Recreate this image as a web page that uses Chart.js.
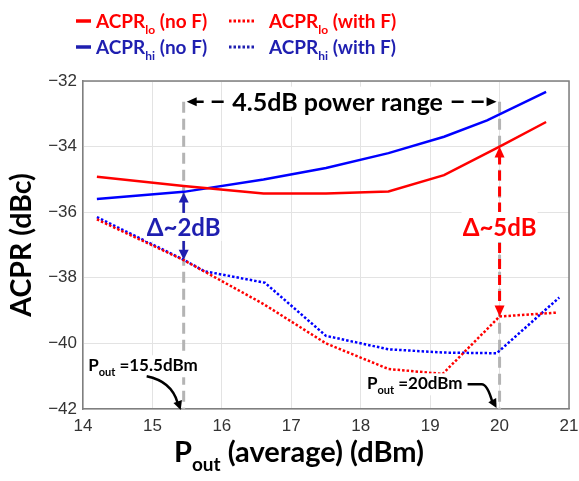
<!DOCTYPE html>
<html><head><meta charset="utf-8">
<script src="https://cdn.jsdelivr.net/npm/chart.js@4/dist/chart.umd.min.js"></script>
<style>html,body{margin:0;padding:0;background:#fff}#wrap{width:579px;height:481px}</style>
</head><body><div id="wrap"><canvas id="c" width="579" height="481"></canvas></div>
<script>
// ---- data ----
const xTicks = [14, 15, 16, 17, 18, 19, 20, 21];
const yTicks = [-42, -40, -38, -36, -34, -32];

const loNoF_x = [14.2, 15.45, 16.6, 17.5, 18.4, 19.2, 20.0, 20.67];
const loNoF_y = [-34.92, -35.2, -35.43, -35.43, -35.37, -34.87, -34.0, -33.25];

const hiNoF_x = [14.2, 15.45, 16.6, 17.5, 18.4, 19.2, 19.82, 20.67];
const hiNoF_y = [-35.6, -35.38, -35.0, -34.65, -34.2, -33.7, -33.2, -32.33];

const loF_x = [14.2, 15.45, 16.6, 17.5, 18.4, 19.18, 20.0, 20.83];
const loF_y = [-36.22, -37.46, -38.8, -40.0, -40.78, -40.93, -39.18, -39.06];

const hiF_x = [14.2, 15.45, 15.75, 16.62, 17.5, 18.4, 19.2, 19.96, 20.86];
const hiF_y = [-36.15, -37.45, -37.8, -38.15, -39.77, -40.18, -40.28, -40.3, -38.6];

const markerX = [15.45, 20.0];
const rangeY = -32.63;

const RED = '#ff0000', BLUE = '#0000ff', DBLUE = '#1f1fb0';
const F = 'Lato, "Open Sans", sans-serif';

function pts(xs, ys) { return xs.map((x, i) => ({ x: x, y: ys[i] })); }

function measure(ctx, parts, size) {
  const main = `bold ${size}px ${F}`, sub = `bold ${Math.round(size * 0.64)}px ${F}`;
  let w = 0;
  for (const p of parts) { ctx.font = p[1] ? sub : main; w += ctx.measureText(p[0]).width; }
  return w;
}
function rich(ctx, parts, x, y, size, color, align) {
  const main = `bold ${size}px ${F}`, sub = `bold ${Math.round(size * 0.64)}px ${F}`;
  const w = measure(ctx, parts, size);
  let sx = align === 'center' ? x - w / 2 : align === 'right' ? x - w : x;
  ctx.textAlign = 'left'; ctx.textBaseline = 'alphabetic'; ctx.fillStyle = color;
  for (const p of parts) {
    ctx.font = p[1] ? sub : main;
    ctx.fillText(p[0], sx, y + (p[1] ? size * 0.3 : 0));
    sx += ctx.measureText(p[0]).width;
  }
  return w;
}
function head(ctx, tx, ty, dx, dy, len, hw, color) {
  const n = Math.hypot(dx, dy); dx /= n; dy /= n;
  ctx.save(); ctx.fillStyle = color; ctx.setLineDash([]);
  ctx.beginPath();
  ctx.moveTo(tx, ty);
  ctx.lineTo(tx - dx * len - dy * hw, ty - dy * len + dx * hw);
  ctx.lineTo(tx - dx * len + dy * hw, ty - dy * len - dx * hw);
  ctx.closePath(); ctx.fill(); ctx.restore();
}
function seg(ctx, x1, y1, x2, y2, color, w, dash) {
  ctx.save(); ctx.strokeStyle = color; ctx.lineWidth = w; ctx.setLineDash(dash || []);
  ctx.beginPath(); ctx.moveTo(x1, y1); ctx.lineTo(x2, y2); ctx.stroke(); ctx.restore();
}
function box(ctx, cx, cy, w, h) { ctx.fillStyle = '#fff'; ctx.fillRect(cx - w / 2, cy - h / 2, w, h); }

const annot = {
  id: 'annot',
  beforeDatasetsDraw(chart) {
    const { ctx, scales: { x, y } } = chart;
    for (const mx of markerX) {
      seg(ctx, x.getPixelForValue(mx), y.getPixelForValue(rangeY), x.getPixelForValue(mx), y.getPixelForValue(-42), '#b4b4b4', 3, [11, 6]);
    }
  },
  afterDatasetsDraw(chart) {
    const { ctx, scales: { x, y } } = chart;
    const x1 = x.getPixelForValue(markerX[0]), x2 = x.getPixelForValue(markerX[1]);
    const yr = y.getPixelForValue(rangeY);
    // top range arrow
    seg(ctx, x1 + 8, yr, x2 - 8, yr, '#000', 2.5, [12, 8]);
    head(ctx, x1 + 3, yr, -1, 0, 10, 4.5, '#000');
    head(ctx, x2 - 3, yr, 1, 0, 10, 4.5, '#000');
    const mid = (x1 + x2) / 2 - 4;
    const tw = measure(ctx, [['4.5dB power range', false]], 25);
    box(ctx, mid, yr, tw + 8, 30);
    rich(ctx, [['4.5dB power range', false]], mid, yr + 9, 25, '#000', 'center');

    // delta 2dB (blue)
    const yd = y.getPixelForValue(-36.45);
    const yb1 = y.getPixelForValue(-35.4), yb2 = y.getPixelForValue(-37.45);
    seg(ctx, x1, yb1 + 6, x1, yd - 12, DBLUE, 2.5);
    head(ctx, x1, yb1, 0, -1, 10, 5, DBLUE);
    seg(ctx, x1, yd + 12, x1, yb2 - 6, DBLUE, 2.5);
    head(ctx, x1, yb2, 0, 1, 10, 5, DBLUE);
    box(ctx, x1, yd, 76, 28);
    rich(ctx, [['Δ~2dB', false]], x1, yd + 9, 24, DBLUE, 'center');

    // delta 5dB (red)
    const yr1 = y.getPixelForValue(-34.0), yr2 = y.getPixelForValue(-39.18);
    seg(ctx, x2, yr1 + 8, x2, yd - 14, RED, 3, [10, 6]);
    head(ctx, x2, yr1, 0, -1, 11, 5, RED);
    seg(ctx, x2, yd + 16, x2, yr2 - 8, RED, 3, [10, 6]);
    head(ctx, x2, yr2, 0, 1, 11, 5, RED);
    box(ctx, x2, yd, 76, 30);
    rich(ctx, [['Δ~5dB', false]], x2, yd + 9, 24, RED, 'center');

    // Pout labels
    const yb = y.getPixelForValue(-42);
    const p1 = [['P', false], ['out', true], [' =15.5dBm', false]];
    const yl1 = y.getPixelForValue(-40.85);
    const w1 = measure(ctx, p1, 17);
    box(ctx, x1 + 14 - w1 / 2, yl1 - 5, w1 + 4, 22);
    rich(ctx, p1, x1 + 14, yl1, 17, '#000', 'right');
    ctx.save(); ctx.strokeStyle = '#000'; ctx.lineWidth = 2.5;
    ctx.beginPath(); ctx.moveTo(x1 - 37, yl1 + 5); ctx.quadraticCurveTo(x1 - 12, yl1 + 10, x1 - 6, yb - 6); ctx.stroke(); ctx.restore();
    head(ctx, x1 - 3, yb + 1, 0.35, 1, 9, 4.5, '#000');

    const p2 = [['P', false], ['out', true], [' =20dBm', false]];
    const yl2 = y.getPixelForValue(-41.4);
    const w2 = measure(ctx, p2, 17);
    box(ctx, x2 - 37 - w2 / 2, yl2 - 5, w2 + 4, 22);
    rich(ctx, p2, x2 - 37, yl2, 17, '#000', 'right');
    ctx.save(); ctx.strokeStyle = '#000'; ctx.lineWidth = 2.5;
    ctx.beginPath(); ctx.moveTo(x2 - 32, yl2 - 5); ctx.lineTo(x2 - 18, yl2 - 5); ctx.quadraticCurveTo(x2 - 12, yl2 - 5, x2 - 7, yb - 6); ctx.stroke(); ctx.restore();
    head(ctx, x2 - 3, yb - 1, 0.55, 1, 9, 4.5, '#000');
  },
  afterDraw(chart) {
    const { ctx, chartArea: a } = chart;
    // legend
    seg(ctx, 76, 21, 91, 21, RED, 3.5);
    rich(ctx, [['ACPR', false], ['lo', true], [' (no F)', false]], 96, 28, 19, RED, 'left');
    seg(ctx, 229, 21, 254, 21, RED, 3, [2.5, 2]);
    rich(ctx, [['ACPR', false], ['lo', true], [' (with F)', false]], 269, 28, 19, RED, 'left');
    seg(ctx, 76, 47, 91, 47, DBLUE, 3.5);
    rich(ctx, [['ACPR', false], ['hi', true], [' (no F)', false]], 96, 54, 19, DBLUE, 'left');
    seg(ctx, 229, 47, 254, 47, DBLUE, 3, [2.5, 2]);
    rich(ctx, [['ACPR', false], ['hi', true], [' (with F)', false]], 269, 54, 19, DBLUE, 'left');
    // axis titles
    rich(ctx, [['P', false], ['out', true], [' (average) (dBm)', false]], (a.left + a.right) / 2 - 27, 462, 29, '#000', 'center');
    ctx.save(); ctx.translate(31, (a.top + a.bottom) / 2); ctx.rotate(-Math.PI / 2);
    rich(ctx, [['ACPR (dBc)', false]], 0, 0, 28.5, '#000', 'center');
    ctx.restore();
  }
};

new Chart(document.getElementById('c'), {
  type: 'line',
  data: {
    datasets: [
      { label: 'ACPRlo (no F)', data: pts(loNoF_x, loNoF_y), borderColor: RED, borderWidth: 2.5, pointRadius: 0, tension: 0 },
      { label: 'ACPRhi (no F)', data: pts(hiNoF_x, hiNoF_y), borderColor: BLUE, borderWidth: 2.5, pointRadius: 0, tension: 0 },
      { label: 'ACPRlo (with F)', data: pts(loF_x, loF_y), borderColor: RED, borderWidth: 2.5, borderDash: [2.5, 2], pointRadius: 0, tension: 0 },
      { label: 'ACPRhi (with F)', data: pts(hiF_x, hiF_y), borderColor: BLUE, borderWidth: 2.5, borderDash: [2.5, 2], pointRadius: 0, tension: 0 }
    ]
  },
  options: {
    responsive: false, animation: false, devicePixelRatio: 1,
    layout: { padding: { top: 81, right: 10, left: 0, bottom: 0 } },
    plugins: { legend: { display: false }, tooltip: { enabled: false } },
    scales: {
      x: {
        type: 'linear', min: 14, max: 21,
        afterBuildTicks: s => { s.ticks = xTicks.map(v => ({ value: v })); },
        afterFit: s => { s.height = 72; s.paddingLeft = 0; s.paddingRight = 0; },
        grid: { color: '#e3e3e3', drawTicks: false, lineWidth: 1 },
        border: { color: '#7f7f7f', width: 1.5 },
        ticks: { padding: 7, color: '#333', font: { family: '"Liberation Sans", sans-serif', size: 17 } }
      },
      y: {
        min: -42, max: -32,
        afterBuildTicks: s => { s.ticks = yTicks.map(v => ({ value: v })); },
        afterFit: s => { s.width = 83; s.paddingTop = 0; s.paddingBottom = 0; },
        grid: { color: '#e3e3e3', drawTicks: false, lineWidth: 1 },
        border: { color: '#7f7f7f', width: 1.5 },
        ticks: { padding: 6, color: '#333', font: { family: '"Liberation Sans", sans-serif', size: 17 },
          callback: v => (v < 0 ? '\u2212' : '') + Math.abs(v) }
      }
    }
  },
  plugins: [annot, {
    id: 'frame',
    afterDatasetsDraw(chart) {
      const { ctx, chartArea: a } = chart;
      ctx.save(); ctx.strokeStyle = '#7f7f7f'; ctx.lineWidth = 1.5;
      ctx.beginPath(); ctx.moveTo(a.left, a.top); ctx.lineTo(a.right, a.top); ctx.lineTo(a.right, a.bottom); ctx.stroke(); ctx.restore();
    }
  }]
});
</script></body></html>
